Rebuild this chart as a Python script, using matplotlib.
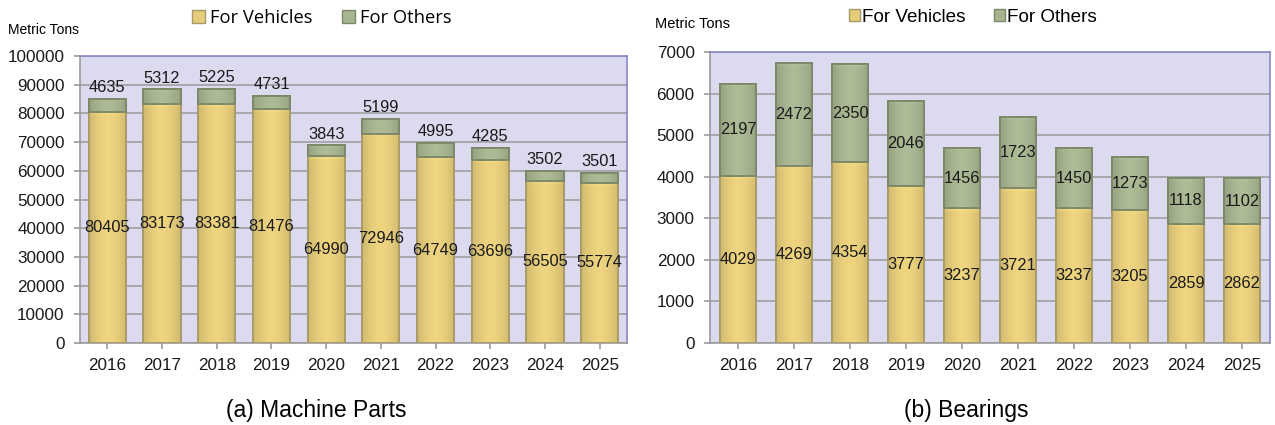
import matplotlib
matplotlib.use("Agg")
import matplotlib.pyplot as plt
import numpy as np
from matplotlib.patches import Patch
from matplotlib.colors import to_rgb

years = ["2016", "2017", "2018", "2019", "2020", "2021", "2022", "2023", "2024", "2025"]
mp_vehicles = [80405, 83173, 83381, 81476, 64990, 72946, 64749, 63696, 56505, 55774]
mp_others = [4635, 5312, 5225, 4731, 3843, 5199, 4995, 4285, 3502, 3501]
br_vehicles = [4029, 4269, 4354, 3777, 3237, 3721, 3237, 3205, 2859, 2862]
br_others = [2197, 2472, 2350, 2046, 1456, 1723, 1450, 1273, 1118, 1102]

plt.rcParams['font.family'] = ['Liberation Sans', 'DejaVu Sans']

C_VEH = '#e6cd7b'
C_OTH = '#a6b490'
E_VEH = '#a89a68'
E_OTH = '#7c8768'
BG = '#dcdaef'
SPINE = '#8a86c8'

fig = plt.figure(figsize=(12.75, 4.25), dpi=100)
ax1 = fig.add_axes([80 / 1275, 1 - 343 / 425, (627 - 80) / 1275, (343 - 56) / 425])
ax2 = fig.add_axes([710 / 1275, 1 - 343 / 425, (1270 - 710) / 1275, (343 - 52) / 425])


def shade(ax, bars, base, ymax):
    # horizontal gradient (darker edges, lighter centre) clipped to each bar
    c = np.array(to_rgb(base))
    n = 64
    t = np.linspace(-1, 1, n)
    f = 1.0 - 0.10 * t ** 2 + 0.04 * (1 - np.abs(t))
    img = np.clip(c[None, None, :] * f[None, :, None], 0, 1)
    # light highlight at the top of each bar
    for r in bars:
        x0, y0 = r.get_x(), r.get_y()
        w, h = r.get_width(), r.get_height()
        im = ax.imshow(img, extent=(x0, x0 + w, y0, y0 + h), aspect='auto',
                       origin='lower', zorder=3.5, interpolation='bicubic')
        im.set_clip_path(r)
        hh = min(h * 0.25, ymax * 0.018)
        top = np.linspace(0, 1, 16)[:, None]
        hl = np.ones((16, n, 4))
        hl[..., :3] = np.clip(c * 1.12, 0, 1)
        hl[..., 3] = 0.75 * top ** 1.5 * (1 - 0.5 * np.abs(t))[None, :]
        im2 = ax.imshow(hl, extent=(x0, x0 + w, y0 + h - hh, y0 + h), aspect='auto',
                        origin='lower', zorder=3.6, interpolation='bicubic')
        im2.set_clip_path(r)


def draw(ax, veh, oth, ymax, step, others_above, width):
    x = np.arange(len(years))
    ax.set_facecolor(BG)
    b1 = ax.bar(x, veh, width=width, color=C_VEH, edgecolor=E_VEH, linewidth=1.3, zorder=3)
    b2 = ax.bar(x, oth, bottom=veh, width=width, color=C_OTH, edgecolor=E_OTH, linewidth=1.3, zorder=3)
    shade(ax, b1, C_VEH, ymax)
    shade(ax, b2, C_OTH, ymax)
    # redraw outlines on top of the shading
    ax.bar(x, veh, width=width, fill=False, edgecolor=E_VEH, linewidth=1.3, zorder=4)
    ax.bar(x, oth, bottom=veh, width=width, fill=False, edgecolor=E_OTH, linewidth=1.3, zorder=4)
    for xi, v, o in zip(x, veh, oth):
        ax.text(xi, v / 2, str(v), ha='center', va='center', fontsize=11.8, zorder=5, color='#1a1a1a')
        if others_above:
            ax.text(xi, v + o + ymax * 0.012, str(o), ha='center', va='bottom', fontsize=11.8, zorder=5, color='#1a1a1a')
        else:
            ax.text(xi, v + o / 2, str(o), ha='center', va='center', fontsize=11.8, zorder=5, color='#1a1a1a')
    ax.set_ylim(0, ymax)
    ax.set_xlim(-0.5, len(years) - 0.5)
    ax.set_yticks(np.arange(0, ymax + 1, step))
    ax.set_xticks(x)
    ax.set_xticklabels(years)
    ax.tick_params(labelsize=12.3, length=4, width=1.2, colors='#999999', labelcolor='#1a1a1a')
    ax.tick_params(axis='y', pad=7)
    ax.tick_params(axis='x', pad=7)
    ax.grid(axis='y', color='#9a9a9a', linewidth=1.1, zorder=1)
    for s in ['top', 'right']:
        ax.spines[s].set_color(SPINE)
        ax.spines[s].set_linewidth(1.2)
    for s in ['left', 'bottom']:
        ax.spines[s].set_color('#9a9a9a')
        ax.spines[s].set_linewidth(1.2)


draw(ax1, mp_vehicles, mp_others, 100000, 10000, True, 0.68)
draw(ax2, br_vehicles, br_others, 7000, 1000, False, 0.66)

handles = [Patch(facecolor=C_VEH, edgecolor=E_VEH), Patch(facecolor=C_OTH, edgecolor=E_OTH)]
fig.legend(handles, ['For Vehicles', 'For Others'], loc='center', bbox_to_anchor=(0.2525, 0.957),
           ncol=2, frameon=False, handlelength=0.7, handleheight=0.7,
           handletextpad=0.3, columnspacing=1.6, prop={'family': 'Open Sans', 'size': 13.2})
fig.legend(handles, ['For Vehicles', 'For Others'], loc='center', bbox_to_anchor=(0.763, 0.96),
           ncol=2, frameon=False, handlelength=0.6, handleheight=0.6,
           handletextpad=0.1, columnspacing=1.5, prop={'size': 13.6})

fig.text(8 / 1275, 1 - 30 / 425, 'Metric Tons', fontsize=10, ha='left', va='center')
fig.text(655 / 1275, 1 - 24 / 425, 'Metric Tons', fontsize=10.5, ha='left', va='center')

fig.text(0.248, 0.035, '(a) Machine Parts', fontsize=16.5, ha='center', va='center')
fig.text(0.758, 0.035, '(b) Bearings', fontsize=16.5, ha='center', va='center')

fig.savefig('out.png', dpi=100)
